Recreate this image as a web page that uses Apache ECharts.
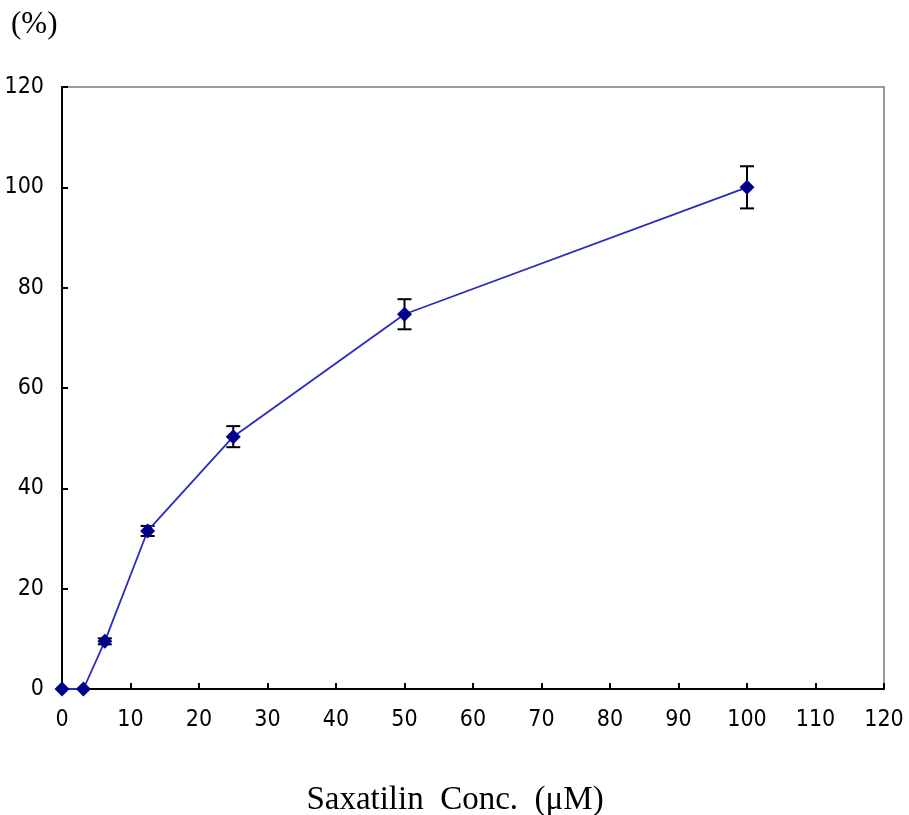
<!DOCTYPE html>
<html>
<head>
<meta charset="utf-8">
<script src="https://cdn.jsdelivr.net/npm/echarts@6/dist/echarts.min.js"></script>
<style>
  body { margin: 0; background: #fff; }
  #chart { width: 909px; height: 815px; }
</style>
</head>
<body>
<div id="chart"></div>
<script>
const conc = [0, 3.125, 6.25, 12.5, 25, 50, 100]
const percent = [0, 0, 9.5, 31.5, 50.3, 74.7, 100]
const errors = [0, 0, 0.6, 1.0, 2.1, 3.0, 4.2]

const chart = echarts.init(document.getElementById('chart'))

const tickFont = '"Liberation Sans Narrow", "DejaVu Sans Condensed", "Liberation Sans", sans-serif'
const serifFont = '"Liberation Serif", "DejaVu Serif", serif'

const option = {
  animation: false,
  backgroundColor: '#fff',
  grid: {
    left: 62, right: 25, top: 87, bottom: 126,
    outerBoundsMode: 'none', containLabel: false,
    show: true, borderColor: '#999', borderWidth: 2
  },
  title: {
    text: '(%)',
    left: 6, top: 4,
    textStyle: { fontFamily: serifFont, fontSize: 31, fontWeight: 'normal', color: '#000' }
  },
  xAxis: {
    type: 'value',
    min: 0, max: 120, interval: 10,
    name: 'Saxatilin  Conc.  (μM)',
    nameLocation: 'middle',
    nameGap: 95,
    nameTextStyle: { fontFamily: serifFont, fontSize: 33, color: '#000', padding: [0, 36, 0, 0] },
    axisLine: { lineStyle: { color: '#000', width: 2 } },
    axisTick: { inside: true, length: 6, lineStyle: { color: '#000', width: 2 } },
    axisLabel: { margin: 20, fontSize: 23, fontFamily: tickFont, color: '#000' },
    splitLine: { show: false }
  },
  yAxis: {
    type: 'value',
    min: 0, max: 120, interval: 20,
    axisLine: { show: true, lineStyle: { color: '#000', width: 2 } },
    axisTick: { show: true, inside: true, length: 6, lineStyle: { color: '#000', width: 2 } },
    axisLabel: { margin: 18, fontSize: 23, fontFamily: tickFont, color: '#000' },
    splitLine: { show: false }
  },
  series: [
    {
      type: 'line',
      data: conc.map((x, i) => [x, percent[i]]),
      symbol: 'diamond',
      symbolSize: 15,
      lineStyle: { color: '#2a2ac0', width: 1.8 },
      itemStyle: { color: '#00008b' },
      z: 3
    },
    {
      type: 'custom',
      data: conc.map((x, i) => [x, percent[i], errors[i]]),
      renderItem: (params, api) => {
        const x = api.value(0)
        const y = api.value(1)
        const e = api.value(2)
        if (!e) return null
        const top = api.coord([x, y + e])
        const bot = api.coord([x, y - e])
        const half = 7
        const style = { stroke: '#000', lineWidth: 2 }
        return {
          type: 'group',
          children: [
            { type: 'line', shape: { x1: top[0], y1: top[1], x2: bot[0], y2: bot[1] }, style },
            { type: 'line', shape: { x1: top[0] - half, y1: top[1], x2: top[0] + half, y2: top[1] }, style },
            { type: 'line', shape: { x1: bot[0] - half, y1: bot[1], x2: bot[0] + half, y2: bot[1] }, style }
          ]
        }
      },
      z: 2
    }
  ]
}

chart.setOption(option)
window.addEventListener('resize', () => chart.resize())
</script>
</body>
</html>
